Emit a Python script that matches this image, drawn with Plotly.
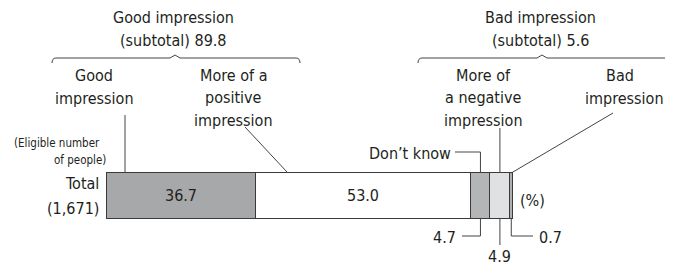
import plotly.graph_objects as go

# ---- data ----
segments = ["Good impression", "More of a positive impression", "Don\u2019t know",
            "More of a negative impression", "Bad impression"]
values = [36.7, 53.0, 4.7, 4.9, 0.7]
bar_labels = ["36.7", "53.0", "", "", ""]
subtotal_good = 89.8
subtotal_bad = 5.6
row_label = "Total"
row_n = "(1,671)"

colors = ["#a7a8aa", "#ffffff", "#b4b5b7", "#e0e1e3", "#b0b0b0"]

# page has an 8px body margin: figure is drawn starting at (8, 8)
OFF = 8
W, H = 673 - OFF, 265 - OFF
X0_PIX, PX_PER = 107.0, 4.057          # value 0 sits at pixel 107
XMIN = (OFF - X0_PIX) / PX_PER
XMAX = (673 - X0_PIX) / PX_PER


def px(p):
    """page pixel x -> x data units"""
    return (p - X0_PIX) / PX_PER


FONT = "DejaVu Sans Condensed, Liberation Sans Narrow, sans-serif"
FS = 16
TXT = "#231f20"
LN = dict(color="#444444", width=1)

cum = [0]
for v in values:
    cum.append(cum[-1] + v)
mid = [(cum[i] + cum[i + 1]) / 2 for i in range(len(values))]

fig = go.Figure()
for i, (name, v) in enumerate(zip(segments, values)):
    fig.add_trace(go.Bar(
        y=[196], x=[v], orientation="h", width=46, name=name,
        marker=dict(color=colors[i], line=dict(color="#3a3a3a", width=1)),
        text=[bar_labels[i]], textposition="inside", insidetextanchor="middle",
        textfont=dict(family=FONT, size=FS, color=TXT),
        hoverinfo="skip", showlegend=False))

ann = []


def T(text, x, y, size=FS, xanchor="center", xdata=False):
    ann.append(dict(text=text, x=x if xdata else px(x), y=y, xref="x", yref="y",
                    showarrow=False, xanchor=xanchor, yanchor="middle",
                    font=dict(family=FONT, size=size, color=TXT)))


def TL(lines, x, y0, step=23, **kw):
    for k, s in enumerate(lines):
        T(s, x, y0 + k * step, **kw)


TL(["Good impression", f"(subtotal) {subtotal_good}"], 173, 17)
TL(["Bad impression", f"(subtotal) {subtotal_bad}"], 540, 17)
TL(["Good", "impression"], 94, 75)
TL(["More of a", "positive", "impression"], 233, 75, step=22.5)
TL(["More of", "a negative", "impression"], 483, 75, step=22.5)
T("Bad", 620, 75)
T("impression", 624, 98)
T("(Eligible number", 12, 143, size=11.5, xanchor="left")
T("of people)", 52, 160, size=11.5, xanchor="left")
T(row_label, 101, 183, xanchor="right")
T(row_n, 101, 208, xanchor="right")
T("Don\u2019t know", 453, 153, xanchor="right")
T(f"{values[2]}", 458, 237, xanchor="right")
T(f"{values[3]}", mid[3], 256, xdata=True)
T(f"{values[4]}", 537, 237, xanchor="left")
T("(%)", 532, 200)

shapes = []


def L(x0, y0, x1, y1):
    shapes.append(dict(type="line", x0=x0, y0=y0, x1=x1, y1=y1, xref="x", yref="y", line=LN))


def brace(xa, xb, xm, y):
    a, b, m = px(xa), px(xb), px(xm)
    r = 4 / PX_PER
    path = (f"M{a},{y+5} Q{a},{y} {a+r},{y} L{m-5/PX_PER},{y} L{m},{y-3} "
            f"L{m+5/PX_PER},{y} L{b-r},{y} Q{b},{y} {b},{y+5}")
    shapes.append(dict(type="path", path=path, xref="x", yref="y", line=LN))


brace(52, 300, 175, 58)
brace(418, 668, 542, 58)

top, bot = 173, 219
L(px(125), 115, px(125), top)                       # good impression
L(px(245), 127, cum[1] + 7.9, top)                  # positive
L(px(455), 152, mid[2], 152); L(mid[2], 152, mid[2], top)   # don't know
L(mid[3], 128, mid[3], top)                         # negative
L(px(613), 113, mid[4], top)                        # bad
L(mid[2], bot, mid[2], 236); L(mid[2], 236, px(462), 236)   # 4.7
L(mid[3], bot, mid[3], 245)                         # 4.9
L(mid[4], bot, mid[4], 236); L(mid[4], 236, px(533), 236)   # 0.7

fig.update_layout(
    width=W, height=H, margin=dict(l=0, r=0, t=0, b=0),
    paper_bgcolor="white", plot_bgcolor="white",
    barmode="stack", bargap=0,
    xaxis=dict(range=[XMIN, XMAX], visible=False, fixedrange=True),
    yaxis=dict(range=[265, OFF], visible=False, fixedrange=True),
    annotations=ann, shapes=shapes,
)

fig.write_html("out.html")
